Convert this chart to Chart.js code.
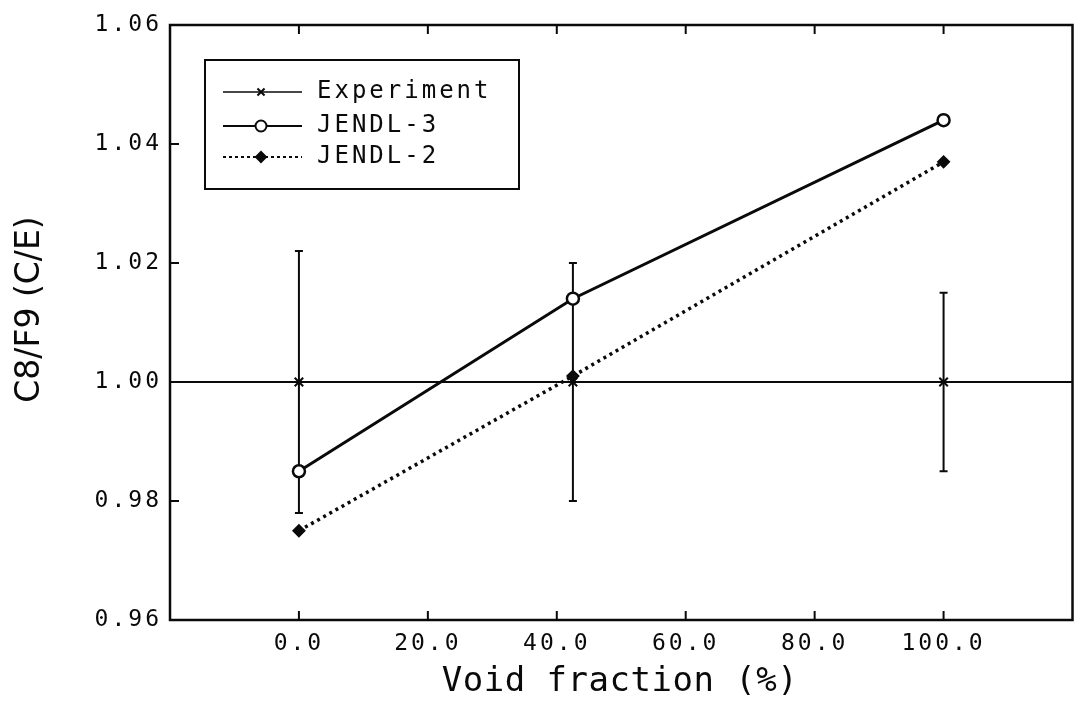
<!DOCTYPE html>
<html>
<head>
<meta charset="utf-8">
<script src="https://cdn.jsdelivr.net/npm/chart.js@4.4.1/dist/chart.umd.min.js"></script>
<style>
  html, body { margin: 0; padding: 0; background: #fff; }
  #wrap { width: 1081px; height: 702px; }
</style>
</head>
<body>
<div id="wrap"><canvas id="chart" width="1081" height="702"></canvas></div>
<script>
// --- DATA ---
const VOID_FRACTION = [0.0, 42.5, 100.0];
const EXPERIMENT = [1.000, 1.000, 1.000];
const EXPERIMENT_ERR = [0.022, 0.020, 0.015];
const JENDL3 = [0.985, 1.014, 1.044];
const JENDL2 = [0.975, 1.001, 1.037];
const X_TICKS = [0, 20, 40, 60, 80, 100];
const Y_TICKS = [0.96, 0.98, 1.00, 1.02, 1.04, 1.06];
const UNITY = 1.0;

const MONO = "'DejaVu Sans Mono', monospace";
const INK = '#0a0a0a';

const points = (ys) => VOID_FRACTION.map((x, i) => ({ x: x, y: ys[i] }));

// --- HAND-DRAWN PARTS (frame, inward ticks, error bars, legend, titles) ---
const decorations = {
    id: 'decorations',
    beforeDraw(chart) {
        // tick labels in the plot are spaced out a little
        chart.ctx.letterSpacing = '3px';
    },
    beforeDatasetsDraw(chart) {
        const { ctx, chartArea: a, scales: { x, y } } = chart;
        ctx.save();
        ctx.letterSpacing = '0px';
        ctx.strokeStyle = INK;

        // C/E = 1 reference line across the frame
        const py = y.getPixelForValue(UNITY);
        ctx.lineWidth = 2;
        ctx.beginPath();
        ctx.moveTo(a.left, py);
        ctx.lineTo(a.right, py);
        ctx.stroke();

        // experimental error bars
        ctx.lineWidth = 2;
        VOID_FRACTION.forEach((v, i) => {
            const px = x.getPixelForValue(v);
            const top = y.getPixelForValue(EXPERIMENT[i] + EXPERIMENT_ERR[i]);
            const bot = y.getPixelForValue(EXPERIMENT[i] - EXPERIMENT_ERR[i]);
            ctx.beginPath();
            ctx.moveTo(px, top); ctx.lineTo(px, bot);
            ctx.moveTo(px - 4, top); ctx.lineTo(px + 4, top);
            ctx.moveTo(px - 4, bot); ctx.lineTo(px + 4, bot);
            ctx.stroke();
        });
        ctx.restore();
    },
    afterDraw(chart) {
        const { ctx, chartArea: a, scales: { x, y } } = chart;
        ctx.save();
        ctx.letterSpacing = '0px';
        ctx.strokeStyle = INK;
        ctx.fillStyle = INK;

        // frame
        ctx.lineWidth = 2.5;
        ctx.strokeRect(a.left, a.top, a.right - a.left, a.bottom - a.top);

        // ticks pointing into the plot
        ctx.lineWidth = 2;
        ctx.beginPath();
        X_TICKS.forEach(v => {
            const px = x.getPixelForValue(v);
            ctx.moveTo(px, a.bottom); ctx.lineTo(px, a.bottom - 9);
            ctx.moveTo(px, a.top); ctx.lineTo(px, a.top + 9);
        });
        Y_TICKS.forEach(v => {
            const py = y.getPixelForValue(v);
            ctx.moveTo(a.left, py); ctx.lineTo(a.left + 9, py);
        });
        ctx.stroke();

        // axis titles
        ctx.textAlign = 'center';
        ctx.textBaseline = 'middle';
        ctx.font = "34px " + MONO;
        ctx.letterSpacing = '0.5px';
        ctx.fillText('Void fraction (%)', 620, 682);

        ctx.save();
        ctx.translate(30, (a.top + a.bottom) / 2 - 13);
        ctx.rotate(-Math.PI / 2);
        ctx.font = "33px 'DejaVu Sans', sans-serif";
        ctx.letterSpacing = '0px';
        ctx.fillText('C8/F9 (C/E)', 0, 0);
        ctx.restore();

        // legend box
        const lx = a.left + 35, ly = a.top + 35, lw = 314, lh = 129;
        ctx.lineWidth = 2;
        ctx.strokeRect(lx, ly, lw, lh);

        const rows = [
            { label: 'Experiment', dash: [], width: 1.5, style: 'crossRot', r: 5, fill: false },
            { label: 'JENDL-3', dash: [], width: 2, style: 'circle', r: 5.5, fill: false },
            { label: 'JENDL-2', dash: [3, 3], width: 2, style: 'rectRot', r: 5, fill: true }
        ];
        const rowY = [ly + 32, ly + 66, ly + 97];
        rows.forEach((row, i) => {
            const ry = rowY[i];
            ctx.save();
            ctx.setLineDash(row.dash);
            ctx.lineWidth = row.width;
            ctx.beginPath();
            ctx.moveTo(lx + 18, ry); ctx.lineTo(lx + 97, ry);
            ctx.stroke();
            ctx.restore();
            ctx.save();
            ctx.lineWidth = 2;
            ctx.fillStyle = row.fill ? INK : '#fff';
            Chart.helpers.drawPoint(ctx, { pointStyle: row.style, radius: row.r, borderWidth: 2 }, lx + 56, ry);
            if (row.fill) ctx.fill();
            ctx.restore();
            ctx.textAlign = 'left';
            ctx.textBaseline = 'middle';
            ctx.font = "24px " + MONO;
            ctx.letterSpacing = '3px';
            ctx.fillText(row.label, lx + 112, ry);
        });
        ctx.restore();
    }
};

// --- CHART ---
const ctx = document.getElementById('chart').getContext('2d');
new Chart(ctx, {
    type: 'scatter',
    data: {
        datasets: [
            {
                label: 'Experiment',
                data: points(EXPERIMENT),
                showLine: false,
                pointStyle: 'crossRot',
                pointRadius: 6,
                borderColor: INK,
                borderWidth: 2
            },
            {
                label: 'JENDL-3',
                data: points(JENDL3),
                showLine: true,
                borderColor: INK,
                borderWidth: 3,
                pointStyle: 'circle',
                pointRadius: 6,
                pointBorderWidth: 2.5,
                pointBackgroundColor: '#fff',
                pointBorderColor: INK
            },
            {
                label: 'JENDL-2',
                data: points(JENDL2),
                showLine: true,
                borderColor: INK,
                borderWidth: 3.5,
                borderDash: [3, 4],
                pointStyle: 'rectRot',
                pointRadius: 5.5,
                pointBorderWidth: 2,
                pointBackgroundColor: INK,
                pointBorderColor: INK
            }
        ]
    },
    options: {
        responsive: false,
        animation: false,
        layout: { padding: { top: 25, right: 2, left: 0, bottom: 0 } },
        plugins: {
            legend: { display: false },
            tooltip: { enabled: false }
        },
        scales: {
            x: {
                type: 'linear',
                min: -20,
                max: 120,
                afterFit: s => { s.height = 82; s.paddingLeft = 0; s.paddingRight = 0; },
                afterBuildTicks: s => { s.ticks = X_TICKS.map(v => ({ value: v })); },
                grid: { display: false, drawTicks: false },
                border: { display: false },
                ticks: {
                    padding: 10,
                    color: INK,
                    font: { family: MONO, size: 23 },
                    callback: v => v.toFixed(1)
                }
            },
            y: {
                min: 0.96,
                max: 1.06,
                afterFit: s => { s.width = 170; s.paddingTop = 0; s.paddingBottom = 0; },
                afterBuildTicks: s => { s.ticks = Y_TICKS.map(v => ({ value: v })); },
                grid: { display: false, drawTicks: false },
                border: { display: false },
                ticks: {
                    padding: 8,
                    color: INK,
                    font: { family: MONO, size: 23 },
                    callback: v => v.toFixed(2)
                }
            }
        }
    },
    plugins: [decorations]
});
</script>
</body>
</html>
